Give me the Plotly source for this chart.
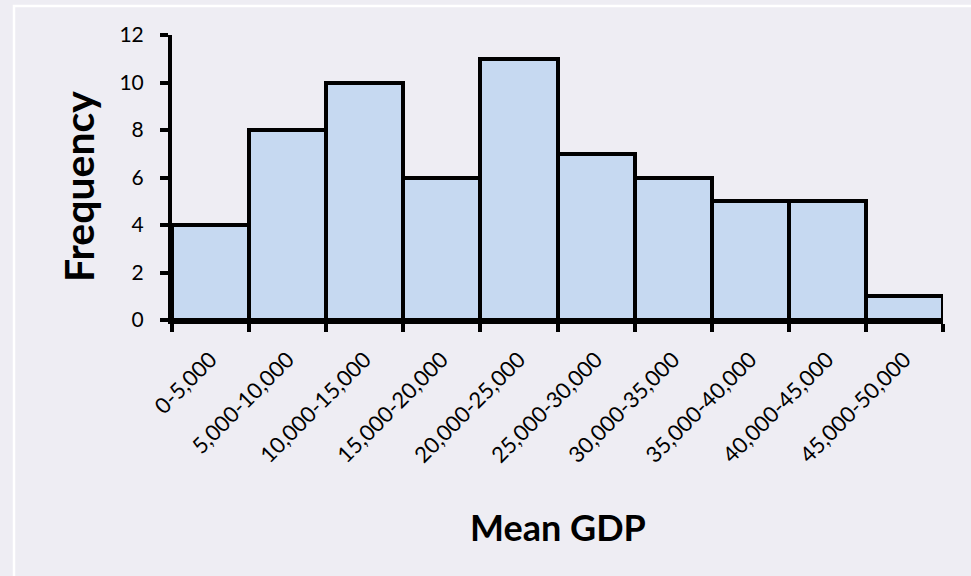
import plotly.graph_objects as go

categories = ["0-5,000", "5,000-10,000", "10,000-15,000", "15,000-20,000", "20,000-25,000",
              "25,000-30,000", "30,000-35,000", "35,000-40,000", "40,000-45,000", "45,000-50,000"]
frequency = [4, 8, 10, 6, 11, 7, 6, 5, 5, 1]
y_ticks = [0, 2, 4, 6, 8, 10, 12]

W, H = 971, 576
L, R, T, B = 172, 28, 35, 256
pw, ph = W - L - R, H - T - B

def px_x(x):
    return (x - L) / pw

def px_y(y):
    return (H - B - y) / ph

bg = "#EEEDF3"
font = "Lato, 'Open Sans', sans-serif"

fig = go.Figure(go.Bar(
    x=categories, y=frequency,
    marker=dict(color="#C6D9F1", line=dict(color="black", width=4)),
))

fig.update_layout(
    width=W, height=H,
    margin=dict(l=L, r=R, t=T, b=B),
    paper_bgcolor=bg, plot_bgcolor=bg,
    bargap=0, showlegend=False,
    font=dict(family=font, color="black", size=21),
    xaxis=dict(
        type="category", range=[-0.5, 9.5], tickangle=-45,
        ticks="outside", tickson="boundaries", ticklen=8, tickwidth=3.5, tickcolor="black",
        showline=True, linecolor="black", linewidth=4, showgrid=False, zeroline=False,
        tickfont=dict(size=22, family=font), ticklabelstandoff=14,
    ),
    yaxis=dict(
        range=[0, 12], tickvals=y_ticks, ticks="outside", ticklen=8, tickwidth=3.5,
        tickcolor="black", showline=True, linecolor="black", linewidth=4,
        showgrid=False, zeroline=False, tickfont=dict(size=21, family=font),
        ticklabelstandoff=12,
    ),
    shapes=[dict(type="rect", xref="paper", yref="paper",
                 x0=px_x(14), x1=px_x(990), y0=px_y(6), y1=px_y(600),
                 line=dict(color="white", width=2.5), fillcolor="rgba(0,0,0,0)", layer="below")],
    annotations=[
        dict(text="<b>Mean GDP</b>", xref="paper", yref="paper", x=px_x(558), y=px_y(527),
             showarrow=False, font=dict(size=36, family=font), xanchor="center", yanchor="middle"),
        dict(text="<b>Frequency</b>", xref="paper", yref="paper", x=px_x(78), y=px_y(187),
             showarrow=False, textangle=-90, font=dict(size=41, family=font),
             xanchor="center", yanchor="middle"),
    ],
)

fig.write_html("out.html", config={"displayModeBar": False},
               post_script="document.body.style.margin='0';")
